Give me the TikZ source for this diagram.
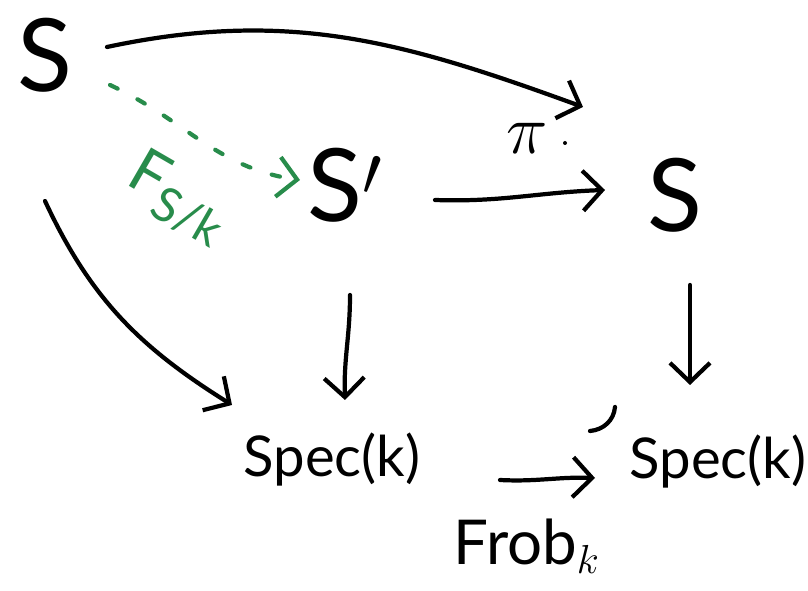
\documentclass[tikz,border=0pt]{standalone}
\usepackage{amsmath}
\usepackage{amssymb}
\usepackage{fontspec}
\setmainfont{Lato}
\usepackage{tikz}
\usetikzlibrary{arrows.meta, positioning}

\definecolor{penGreen}{RGB}{40,140,75}

\tikzset{
    pen/.style={line width=1.5pt, line cap=round, line join=round},
    big/.style={font=\fontsize{36}{40}\selectfont},
    spec/.style={font=\fontsize{20}{24}\selectfont},
    lbl/.style={font=\fontsize{22}{26}\selectfont},
}

\begin{document}
\begin{tikzpicture}[x=0.0125cm, y=0.0125cm, >={Straight Barb[length=2.4mm, width=5mm]}]
    \useasboundingbox (0,0) rectangle (808,591);

    % Define the objects
    \node[big] (S1) at (45,536) {S};
    \node[big] (S2) at (345,406) {S$'$};
    \node[big] (S3) at (675,396) {S};
    \node[spec] (K1) at (332,131) {Spec(k)};
    \node[spec] (K2) at (718,129) {Spec(k)};

    % Draw the horizontal and curved maps
    \draw[->, pen] ([shift={(62,8)}]S1.center) to[out=12, in=160]
        ([shift={(-92,88)}]S3.center);
    \node[lbl, font=\fontsize{30}{34}\selectfont] (Pi) at (527,453) {$\pi$};
    \fill ([shift={(38,-5)}]Pi.center) circle (2);

    \draw[->, pen, penGreen, dash pattern=on 3pt off 8pt] ([shift={(65,-30)}]S1.center)
        to[out=-25, in=172] ([shift={(-45,5)}]S2.center);
    \node[lbl, penGreen, rotate=-30] (Fsk) at (178,393)
        {F\raisebox{-5pt}{\fontsize{17}{20}\selectfont S/k}};

    \draw[->, pen] ([shift={(90,-15)}]S2.center) to[out=-2, in=182]
        ([shift={(-70,5)}]S3.center);

    % Draw the vertical maps
    \draw[->, pen] ([shift={(5,-110)}]S2.center) to[out=-90, in=92]
        ([shift={(13,60)}]K1.center);
    \draw[->, pen] ([shift={(15,-90)}]S3.center) -- ([shift={(-28,77)}]K2.center);

    % Draw the map down to the base
    \draw[->, pen] ([shift={(0,-146)}]S1.center) to[out=-65, in=148]
        ([shift={(-100,55)}]K1.center);

    % Draw the Frobenius
    \draw[->, pen] ([shift={(168,-20)}]K1.center) to[out=-3, in=178]
        ([shift={(-123,-16)}]K2.center);
    \node[lbl] (Frob) at (527,45) {Frob$_k$};

    % Small stroke left of the target
    \draw[pen] (615,184) to[out=-95, in=5] (590,160);
\end{tikzpicture}
\end{document}
